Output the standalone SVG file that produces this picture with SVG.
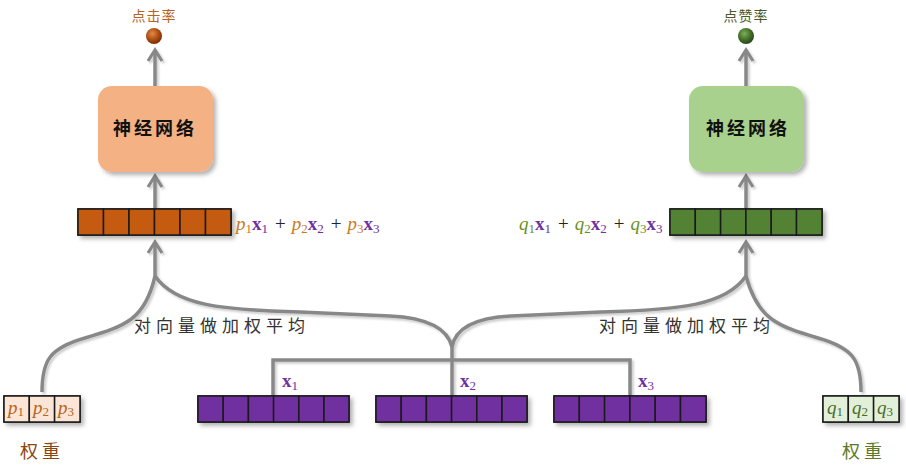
<svg xmlns="http://www.w3.org/2000/svg" width="906" height="469" viewBox="0 0 906 469">
<defs>
<filter id="sh" x="-20%" y="-20%" width="150%" height="160%">
<feDropShadow dx="3" dy="3" stdDeviation="2" flood-color="#000" flood-opacity="0.3"/>
</filter>
<filter id="lsh" x="-10%" y="-10%" width="130%" height="130%">
<feDropShadow dx="2" dy="2" stdDeviation="1.2" flood-color="#000" flood-opacity="0.2"/>
</filter>
<radialGradient id="gOr" cx="0.4" cy="0.35" r="0.7">
<stop offset="0" stop-color="#e08a4a"/><stop offset="0.6" stop-color="#a9480f"/><stop offset="1" stop-color="#6e2a05"/>
</radialGradient>
<radialGradient id="gGr" cx="0.4" cy="0.35" r="0.7">
<stop offset="0" stop-color="#7fae5a"/><stop offset="0.6" stop-color="#3f6a25"/><stop offset="1" stop-color="#22401a"/>
</radialGradient>
<marker id="ah" markerWidth="16" markerHeight="18" refX="13" refY="9" orient="auto" markerUnits="userSpaceOnUse" viewBox="0 0 16 18">
<polyline points="2,2 13,9 2,16" fill="none" stroke="#888" stroke-width="3.2" stroke-linejoin="miter"/>
</marker>
</defs>
<style>
.cjk{font-family:"Noto Sans CJK SC","Noto Sans",sans-serif}
.cell{stroke:#1a1a1a;stroke-width:1.5}
.or{fill:#c55a11}
.gr{fill:#548235}
.pu{fill:#7030a0}
.pc{fill:#fbe5d6}
.qc{fill:#e2f0d9}
.ln{fill:none;stroke:#888;stroke-width:3.5}
.math{font-family:"Liberation Serif","DejaVu Serif",serif;font-size:19px}
.it{font-style:italic}
.bx{font-weight:bold;fill:#7030a0}
.sub{font-size:13px}
</style>

<g id="connectors" filter="url(#lsh)">
<line class="ln" x1="155" y1="86" x2="155" y2="50" marker-end="url(#ah)"/>
<line class="ln" x1="746" y1="86" x2="746" y2="50" marker-end="url(#ah)"/>
<line class="ln" x1="155" y1="209" x2="155" y2="176" marker-end="url(#ah)"/>
<line class="ln" x1="746" y1="209" x2="746" y2="176" marker-end="url(#ah)"/>
<line class="ln" x1="155" y1="276" x2="155" y2="242" marker-end="url(#ah)"/>
<line class="ln" x1="746" y1="276" x2="746" y2="242" marker-end="url(#ah)"/>
<path class="ln" d="M42,392 C42,360 50,348 85,338 C125,326 145,320 155,276"/>
<path class="ln" d="M861,392 C861,360 853,348 818,338 C778,326 758,320 746,276"/>
<path class="ln" d="M155,276 C175,305 220,310 300,312 L390,316 C430,318 448,330 452,347"/>
<path class="ln" d="M746,276 C726,305 681,310 601,312 L511,316 C471,318 455,330 452,347"/>
<line class="ln" x1="452" y1="345" x2="452" y2="396"/>
<path class="ln" d="M273,396 L273,360 L630,360 L630,396"/>
</g>

<g id="out-click">
<text class="cjk" x="154" y="21" font-size="14" fill="#b5651d" text-anchor="middle" letter-spacing="1">点击率</text>
<circle cx="154" cy="36" r="8" fill="url(#gOr)"/>
</g>
<g id="out-like">
<text class="cjk" x="746" y="21" font-size="14" fill="#4a5a2a" text-anchor="middle" letter-spacing="1">点赞率</text>
<circle cx="746" cy="36" r="8" fill="url(#gGr)"/>
</g>

<g id="nn-left">
<rect x="98" y="86" width="115" height="86" rx="14" fill="#f4b183" filter="url(#sh)"/>
<text class="cjk" x="155" y="135" font-size="18" font-weight="bold" fill="#111" text-anchor="middle" letter-spacing="3">神经网络</text>
</g>
<g id="nn-right">
<rect x="689" y="86" width="115" height="86" rx="14" fill="#a9d18e" filter="url(#sh)"/>
<text class="cjk" x="748" y="135" font-size="18" font-weight="bold" fill="#111" text-anchor="middle" letter-spacing="3">神经网络</text>
</g>

<g id="vec-left">
<g filter="url(#sh)">
<rect class="cell or" x="78" y="209" width="153" height="26"/>
</g>
<rect class="cell or" x="78" y="209" width="25.5" height="26"/>
<rect class="cell or" x="103.5" y="209" width="25.5" height="26"/>
<rect class="cell or" x="129" y="209" width="25.5" height="26"/>
<rect class="cell or" x="154.5" y="209" width="25.5" height="26"/>
<rect class="cell or" x="180" y="209" width="25.5" height="26"/>
<rect class="cell or" x="205.5" y="209" width="25.5" height="26"/>
<text class="math" x="236" y="230"><tspan class="it" fill="#c87a1e">p</tspan><tspan class="sub" fill="#c87a1e" dy="3">1</tspan><tspan class="bx" dy="-3">x</tspan><tspan class="sub" fill="#7030a0" dy="3">1</tspan><tspan fill="#222" dy="-3" dx="7">+</tspan><tspan class="it" fill="#c87a1e" dx="6">p</tspan><tspan class="sub" fill="#c87a1e" dy="3">2</tspan><tspan class="bx" dy="-3">x</tspan><tspan class="sub" fill="#7030a0" dy="3">2</tspan><tspan fill="#222" dy="-3" dx="7">+</tspan><tspan class="it" fill="#c87a1e" dx="6">p</tspan><tspan class="sub" fill="#c87a1e" dy="3">3</tspan><tspan class="bx" dy="-3">x</tspan><tspan class="sub" fill="#7030a0" dy="3">3</tspan></text>
</g>

<g id="vec-right">
<g filter="url(#sh)">
<rect class="cell gr" x="670" y="209" width="152" height="26"/>
</g>
<rect class="cell gr" x="670" y="209" width="25.3" height="26"/>
<rect class="cell gr" x="695.3" y="209" width="25.3" height="26"/>
<rect class="cell gr" x="720.6" y="209" width="25.3" height="26"/>
<rect class="cell gr" x="745.9" y="209" width="25.3" height="26"/>
<rect class="cell gr" x="771.2" y="209" width="25.3" height="26"/>
<rect class="cell gr" x="796.5" y="209" width="25.5" height="26"/>
<text class="math" x="519" y="230"><tspan class="it" fill="#6b8e23">q</tspan><tspan class="sub" fill="#6b8e23" dy="3">1</tspan><tspan class="bx" dy="-3">x</tspan><tspan class="sub" fill="#7030a0" dy="3">1</tspan><tspan fill="#222" dy="-3" dx="7">+</tspan><tspan class="it" fill="#6b8e23" dx="6">q</tspan><tspan class="sub" fill="#6b8e23" dy="3">2</tspan><tspan class="bx" dy="-3">x</tspan><tspan class="sub" fill="#7030a0" dy="3">2</tspan><tspan fill="#222" dy="-3" dx="7">+</tspan><tspan class="it" fill="#6b8e23" dx="6">q</tspan><tspan class="sub" fill="#6b8e23" dy="3">3</tspan><tspan class="bx" dy="-3">x</tspan><tspan class="sub" fill="#7030a0" dy="3">3</tspan></text>
</g>

<g id="label-left">
<text class="cjk" x="222" y="332" font-size="17" fill="#333" text-anchor="middle" letter-spacing="5">对向量做加权平均</text>
</g>
<g id="label-right">
<text class="cjk" x="687" y="332" font-size="17" fill="#333" text-anchor="middle" letter-spacing="5">对向量做加权平均</text>
</g>

<g id="x1">
<g filter="url(#sh)"><rect class="cell pu" x="198" y="396" width="151" height="26"/></g>
<rect class="cell pu" x="198" y="396" width="25.2" height="26"/>
<rect class="cell pu" x="223.2" y="396" width="25.2" height="26"/>
<rect class="cell pu" x="248.4" y="396" width="25.2" height="26"/>
<rect class="cell pu" x="273.6" y="396" width="25.2" height="26"/>
<rect class="cell pu" x="298.8" y="396" width="25.2" height="26"/>
<rect class="cell pu" x="324" y="396" width="25" height="26"/>
<text class="math" x="282" y="387" font-size="18"><tspan class="bx">x</tspan><tspan class="sub" fill="#7030a0" dy="3">1</tspan></text>
</g>
<g id="x2">
<g filter="url(#sh)"><rect class="cell pu" x="376" y="396" width="151" height="26"/></g>
<rect class="cell pu" x="376" y="396" width="25.2" height="26"/>
<rect class="cell pu" x="401.2" y="396" width="25.2" height="26"/>
<rect class="cell pu" x="426.4" y="396" width="25.2" height="26"/>
<rect class="cell pu" x="451.6" y="396" width="25.2" height="26"/>
<rect class="cell pu" x="476.8" y="396" width="25.2" height="26"/>
<rect class="cell pu" x="502" y="396" width="25" height="26"/>
<text class="math" x="460" y="387" font-size="18"><tspan class="bx">x</tspan><tspan class="sub" fill="#7030a0" dy="3">2</tspan></text>
</g>
<g id="x3">
<g filter="url(#sh)"><rect class="cell pu" x="554" y="396" width="152" height="26"/></g>
<rect class="cell pu" x="554" y="396" width="25.3" height="26"/>
<rect class="cell pu" x="579.3" y="396" width="25.3" height="26"/>
<rect class="cell pu" x="604.6" y="396" width="25.3" height="26"/>
<rect class="cell pu" x="629.9" y="396" width="25.3" height="26"/>
<rect class="cell pu" x="655.2" y="396" width="25.3" height="26"/>
<rect class="cell pu" x="680.5" y="396" width="25.5" height="26"/>
<text class="math" x="638" y="387" font-size="18"><tspan class="bx">x</tspan><tspan class="sub" fill="#7030a0" dy="3">3</tspan></text>
</g>

<g id="weights-p">
<g filter="url(#sh)"><rect class="cell pc" x="4" y="396" width="76" height="26"/></g>
<rect class="cell pc" x="4" y="396" width="25.3" height="26"/>
<rect class="cell pc" x="29.3" y="396" width="25.3" height="26"/>
<rect class="cell pc" x="54.6" y="396" width="25.4" height="26"/>
<text class="math" fill="#b5651d" font-size="17"><tspan class="it" x="8" y="414">p</tspan><tspan class="sub" dy="2">1</tspan><tspan class="it" x="33" y="414">p</tspan><tspan class="sub" dy="2">2</tspan><tspan class="it" x="58" y="414">p</tspan><tspan class="sub" dy="2">3</tspan></text>
<text class="cjk" x="42" y="458" font-size="18" fill="#8b4513" text-anchor="middle" letter-spacing="4">权重</text>
</g>
<g id="weights-q">
<g filter="url(#sh)"><rect class="cell qc" x="823" y="396" width="76" height="26"/></g>
<rect class="cell qc" x="823" y="396" width="25.3" height="26"/>
<rect class="cell qc" x="848.3" y="396" width="25.3" height="26"/>
<rect class="cell qc" x="873.6" y="396" width="25.4" height="26"/>
<text class="math" fill="#4a6a2a" font-size="17"><tspan class="it" x="827" y="414">q</tspan><tspan class="sub" dy="2">1</tspan><tspan class="it" x="852" y="414">q</tspan><tspan class="sub" dy="2">2</tspan><tspan class="it" x="877" y="414">q</tspan><tspan class="sub" dy="2">3</tspan></text>
<text class="cjk" x="864" y="458" font-size="18" fill="#5a7a2a" text-anchor="middle" letter-spacing="4">权重</text>
</g>
</svg>
